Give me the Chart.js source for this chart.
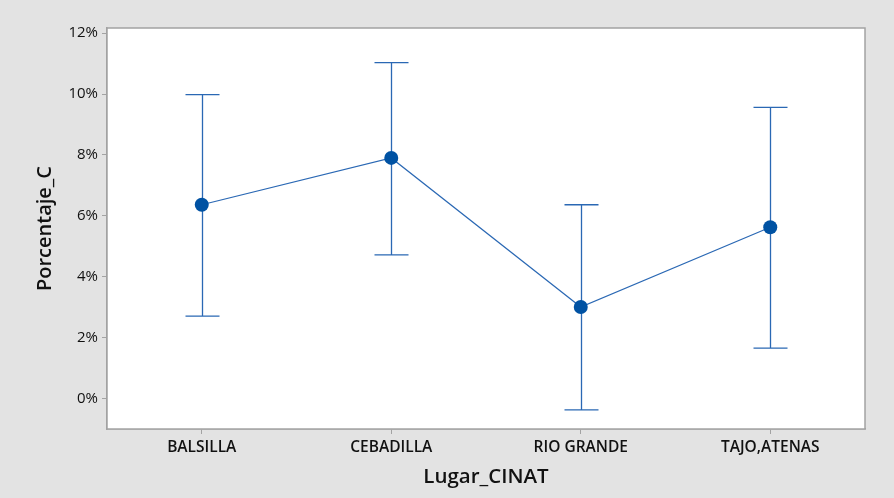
<!DOCTYPE html>
<html>
<head>
<meta charset="utf-8">
<script src="https://cdn.jsdelivr.net/npm/chart.js@4/dist/chart.umd.min.js"></script>
<style>
  html, body { margin: 0; padding: 0; background: #e3e3e3; }
  #wrap { width: 894px; height: 498px; position: relative; }
</style>
</head>
<body>
<div id="wrap"><canvas id="c" width="894" height="498"></canvas></div>
<script>
// Sites and interval data (percent)
const lugares = ['BALSILLA', 'CEBADILLA', 'RIO GRANDE', 'TAJO,ATENAS'];
const medias = [6.36, 7.90, 3.00, 5.62];
const limiteInferior = [2.70, 4.71, -0.38, 1.65];
const limiteSuperior = [9.98, 11.03, 6.36, 9.56];
const ticksY = [0, 2, 4, 6, 8, 10, 12];

const azulLinea = '#2a68b4';
const azulPunto = '#0052a3';
const gris = '#a3a3a3';

// White plot area with a gray frame
const marcoPlot = {
  id: 'marcoPlot',
  beforeDatasetsDraw(chart) {
    const { ctx, chartArea: a } = chart;
    ctx.save();
    ctx.fillStyle = '#ffffff';
    ctx.fillRect(a.left, a.top, a.right - a.left, a.bottom - a.top);
    ctx.restore();
  },
  afterDraw(chart) {
    const { ctx, chartArea: a } = chart;
    ctx.save();
    ctx.strokeStyle = gris;
    ctx.lineWidth = 1.5;
    ctx.strokeRect(a.left, a.top, a.right - a.left, a.bottom - a.top);
    ctx.restore();
  }
};

// Interval whiskers with caps, drawn under the mean markers
const intervalos = {
  id: 'intervalos',
  beforeDatasetsDraw(chart) {
    const { ctx, scales: { x, y } } = chart;
    const cap = 17;
    ctx.save();
    ctx.strokeStyle = azulLinea;
    ctx.lineWidth = 1.3;
    lugares.forEach((lugar, i) => {
      const px = Math.round(x.getPixelForValue(i)) + 0.5;
      const yLo = y.getPixelForValue(limiteInferior[i]);
      const yHi = y.getPixelForValue(limiteSuperior[i]);
      ctx.beginPath();
      ctx.moveTo(px, yHi);
      ctx.lineTo(px, yLo);
      ctx.moveTo(px - cap, yHi);
      ctx.lineTo(px + cap, yHi);
      ctx.moveTo(px - cap, yLo);
      ctx.lineTo(px + cap, yLo);
      ctx.stroke();
    });
    ctx.restore();
  }
};

// Keep only the even-percent ticks
const soloTicks = (scale) => {
  scale.ticks = ticksY.map(v => ({ value: v }));
};

new Chart(document.getElementById('c'), {
  type: 'line',
  data: {
    labels: lugares,
    datasets: [{
      data: medias,
      borderColor: azulLinea,
      borderWidth: 1.2,
      backgroundColor: azulPunto,
      pointBackgroundColor: azulPunto,
      pointBorderColor: azulPunto,
      pointRadius: 7,
      pointBorderWidth: 0,
      tension: 0,
      fill: false
    }]
  },
  options: {
    responsive: false,
    animation: false,
    devicePixelRatio: 1,
    layout: { padding: { top: 28, right: 29, left: 0, bottom: 0 } },
    plugins: {
      legend: { display: false },
      tooltip: { enabled: false },
      title: { display: false }
    },
    scales: {
      x: {
        type: 'category',
        offset: true,
        grid: { display: true, drawOnChartArea: false, drawTicks: true, tickLength: 5, color: gris },
        border: { display: true, color: gris, width: 1.5 },
        ticks: {
          color: '#111',
          padding: 4,
          maxRotation: 0,
          font: { family: 'Open Sans', size: 15.5, weight: '600' }
        },
        title: {
          display: true,
          text: 'Lugar_CINAT',
          color: '#111',
          padding: { top: 0, bottom: 9 },
          font: { family: 'Open Sans', size: 20.5, weight: '600' }
        },
        afterFit(scale) { scale.height = 69; }
      },
      y: {
        type: 'linear',
        min: -1.01,
        max: 12.17,
        afterBuildTicks: soloTicks,
        grid: { display: true, drawOnChartArea: false, drawTicks: true, tickLength: 5, color: gris },
        border: { display: true, color: gris, width: 1.5 },
        ticks: {
          color: '#111',
          padding: 4,
          font: { family: 'Open Sans', size: 15, weight: '400' },
          callback: (v) => v + '%'
        },
        title: {
          display: true,
          text: 'Porcentaje_C',
          color: '#111',
          padding: { top: 33, bottom: 0 },
          font: { family: 'Open Sans', size: 20, weight: '600' }
        },
        afterFit(scale) { scale.width = 107; }
      }
    }
  },
  plugins: [marcoPlot, intervalos]
});
</script>
</body>
</html>
